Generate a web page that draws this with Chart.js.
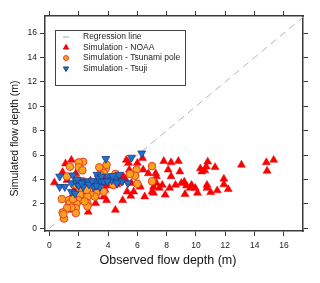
<!DOCTYPE html>
<html><head><meta charset="utf-8">
<script src="https://cdn.jsdelivr.net/npm/chart.js@4"></script>
<style>html,body{margin:0;padding:0;background:#fff}#w{width:320px;height:283px}</style>
</head><body><div id="w"><canvas id="c" width="320" height="283"></canvas></div>
<script>
const tickValues = [0,2,4,6,8,10,12,14,16];
const regressionLine = [[0,0],[17.3,17.3]];
const noaa = [
[0.34,3.75],[1.1,5.3],[1.5,5.6],[15.3,5.6],[14.8,5.4],[14.85,4.7],[13.1,5.2],[12.2,3.2],[11.9,3.6],[11.9,4.05],
[11.45,3.1],[11.3,5.0],[11.0,2.95],[10.8,5.45],[10.7,5.05],[10.4,4.65],[10.6,4.75],[10.3,4.9],[10.75,3.55],[10.75,3.3],
[10.1,2.9],[9.7,3.55],[9.95,3.3],[9.6,3.3],[9.25,2.8],[9.2,3.8],[9.35,3.5],[9.0,3.7],[8.9,4.65],[8.8,5.5],
[8.6,3.55],[8.3,5.4],[8.3,4.25],[8.1,4.8],[8.2,3.3],[7.8,5.5],[7.9,2.75],[7.7,3.55],[7.5,3.3],[7.3,3.7],
[7.25,4.5],[7.3,4.25],[7.1,3.4],[7.0,3.0],[7.1,2.9],[6.75,4.5],[6.4,4.8],[6.5,2.6],[6.35,5.75],[6.2,3.4],
[6.0,5.35],[5.85,4.5],[5.75,3.0],[5.55,2.65],[5.45,4.8],[5.4,5.35],[5.25,5.6],[5.3,3.0],[5.05,4.25],[5.0,2.3],
[4.8,3.75],[4.5,1.5],[4.35,3.95],[4.0,3.7],[3.9,2.3],[3.7,2.6],[3.8,3.15],[3.2,2.6],[3.15,2.05],[2.65,1.35],
[2.6,2.05],[2.3,2.75],[2.1,3.4],[1.8,4.5],[1.5,1.5],[1.3,2.05],[1.2,3.95],[0.9,4.6],[4.6,3.6],[4.2,3.9],
[3.6,3.7],[3.0,3.6],[2.8,3.9],[4.9,3.9],[5.6,3.7],[6.1,3.6],[3.4,3.3],[2.2,2.4],[1.6,2.8],[2.0,3.7],
[3.3,3.9],[3.9,3.5],[4.1,4.1],[5.2,4.0],[1.7,3.2],[2.5,3.5],[3.7,4.1],[4.4,3.5]
];
const tsunamiPole = [
[7.0,5.1],[7.0,3.85],[5.95,4.8],[5.85,4.3],[6.0,3.65],[5.5,4.45],[4.5,4.45],[4.35,3.55],[3.85,4.9],[3.9,5.2],
[3.7,4.55],[3.45,4.4],[3.4,5.0],[3.7,3.0],[3.3,3.55],[3.2,2.9],[3.1,2.6],[2.8,2.9],[2.6,2.6],[2.6,2.05],
[2.6,1.8],[2.3,5.45],[2.0,5.4],[2.0,5.0],[2.25,4.75],[1.9,3.95],[1.85,3.55],[2.1,3.15],[2.1,2.75],[2.0,2.3],
[1.85,2.0],[1.8,1.65],[1.8,1.25],[1.4,5.05],[1.2,4.25],[1.3,2.3],[1.4,2.05],[1.5,1.7],[1.2,1.65],[0.85,2.4],
[0.9,1.3],[1.0,0.8],[0.95,1.15],[2.3,3.85],[2.8,3.75],[2.9,3.3],[2.55,3.15],[4.6,3.85],[1.6,2.4],[2.4,2.2]
];
const tsuji = [
[6.3,6.15],[5.6,5.8],[3.85,5.7],[0.7,4.25],[0.7,3.4],[1.05,3.4],[1.6,4.35],[1.5,3.7],[1.5,3.0],[1.75,2.85],
[1.85,3.7],[2.1,3.85],[2.3,3.55],[2.45,3.85],[2.6,3.85],[2.3,3.4],[3.25,4.4],[3.35,4.1],[3.55,4.25],[3.45,3.85],
[3.1,3.7],[3.7,3.85],[4.0,4.25],[4.25,3.95],[4.5,4.1],[4.75,4.4],[4.7,3.85],[4.95,3.85],[5.35,3.7],[3.45,3.4],
[3.0,3.4],[3.95,3.85],[2.0,3.5],[2.7,3.6],[1.9,4.0],[2.2,3.7],[2.9,3.9],[3.2,3.5],[4.3,4.3],[4.6,3.7]
];
const seriesLabels = ['Regression line','Simulation - NOAA','Simulation - Tsunami pole','Simulation - Tsuji'];
const xTitle = 'Observed flow depth (m)';
const yTitle = 'Simulated flow depth (m)';

const pts = a => a.map(p => ({x:p[0], y:p[1]}));
const FONT = "'Liberation Sans', Arial, sans-serif";
const AX = '#3a3a3a';

const setTicks = s => { s.ticks = tickValues.map(v => ({value:v})); };

const legendPlugin = {
  id:'boxLegend',
  afterDraw(chart){
    const ctx = chart.ctx;
    ctx.save();
    ctx.strokeStyle = '#444'; ctx.lineWidth = 1;
    ctx.strokeRect(55.5, 30.5, 130, 55);
    const rows = [37, 47.5, 58, 68.5];
    ctx.textBaseline = 'middle';
    chart.data.datasets.forEach((ds, i) => {
      const y = rows[i], x = 66;
      if (i === 0) {
        ctx.strokeStyle = '#aaa'; ctx.lineWidth = 1;
        ctx.beginPath(); ctx.moveTo(63, y); ctx.lineTo(69, y); ctx.stroke();
      } else {
        ctx.fillStyle = ds.backgroundColor; ctx.strokeStyle = ds.borderColor; ctx.lineWidth = 1;
        ctx.beginPath();
        if (ds.pointStyle === 'circle') { ctx.arc(x, y, 2.5, 0, Math.PI*2); }
        else {
          const r = 3, s = (ds.pointRotation ? -1 : 1);
          ctx.moveTo(x, y - s*r); ctx.lineTo(x - r*0.87, y + s*r*0.5); ctx.lineTo(x + r*0.87, y + s*r*0.5); ctx.closePath();
        }
        ctx.fill(); ctx.stroke();
      }
      ctx.font = "8.5px " + FONT;
      ctx.fillStyle = '#222';
      ctx.fillText(ds.label, 83, y);
    });
    // axis titles
    ctx.fillStyle = '#111';
    ctx.textAlign = 'center'; ctx.textBaseline = 'middle';
    ctx.font = "12.5px " + FONT;
    ctx.fillText(xTitle, 168, 261);
    ctx.translate(15, 138.5); ctx.rotate(-Math.PI/2);
    ctx.font = "10.5px " + FONT;
    ctx.fillText(yTitle, 0, 0);
    ctx.restore();
  }
};

const mkScale = (axis, position, extra) => Object.assign({
  type:'linear', axis, position,
  min: axis === 'x' ? -0.3 : -0.22,
  max: axis === 'x' ? 17.3 : 17.4,
  afterBuildTicks: setTicks,
  grid:{drawOnChartArea:false, drawTicks:true, tickLength:5, color:AX, lineWidth:1},
  border:{display:true, color:AX, width:1.5},
  ticks:{display:false}
}, extra);

new Chart(document.getElementById('c'), {
  type:'scatter',
  data:{datasets:[
    {type:'line', label:seriesLabels[0], data:pts(regressionLine), borderColor:'#b5b5b5', borderWidth:1, borderDash:[7,5], pointRadius:0, fill:false, order:4},
    {label:seriesLabels[1], data:pts(noaa), pointStyle:'triangle', pointRadius:4.6, backgroundColor:'#ff0000', borderColor:'#e80000', borderWidth:0.5, order:3},
    {label:seriesLabels[2], data:pts(tsunamiPole), pointStyle:'circle', pointRadius:3.8, backgroundColor:'#fba31c', borderColor:'#e6402a', borderWidth:1, order:2},
    {label:seriesLabels[3], data:pts(tsuji), pointStyle:'triangle', pointRotation:180, pointRadius:4.6, backgroundColor:'#2370c8', borderColor:'#1b3f8c', borderWidth:0.8, order:1}
  ]},
  options:{
    responsive:false, animation:false, events:[],
    layout:{padding:0},
    plugins:{legend:{display:false}, tooltip:{enabled:false}},
    scales:{
      x: mkScale('x','bottom',{
        ticks:{display:true, padding:5, color:'#222', font:{family:FONT, size:8.5}, maxRotation:0, autoSkip:false},
        afterFit: s => { s.height = 52; }
      }),
      y: mkScale('y','left',{
        ticks:{display:true, padding:3, color:'#222', font:{family:FONT, size:8.5}, autoSkip:false},
        afterFit: s => { s.width = 45; }
      }),
      x2: mkScale('x','top',{ afterFit: s => { s.height = 16; } }),
      y2: mkScale('y','right',{ afterFit: s => { s.width = 17; } })
    }
  },
  plugins:[legendPlugin]
});
</script>
</body></html>
